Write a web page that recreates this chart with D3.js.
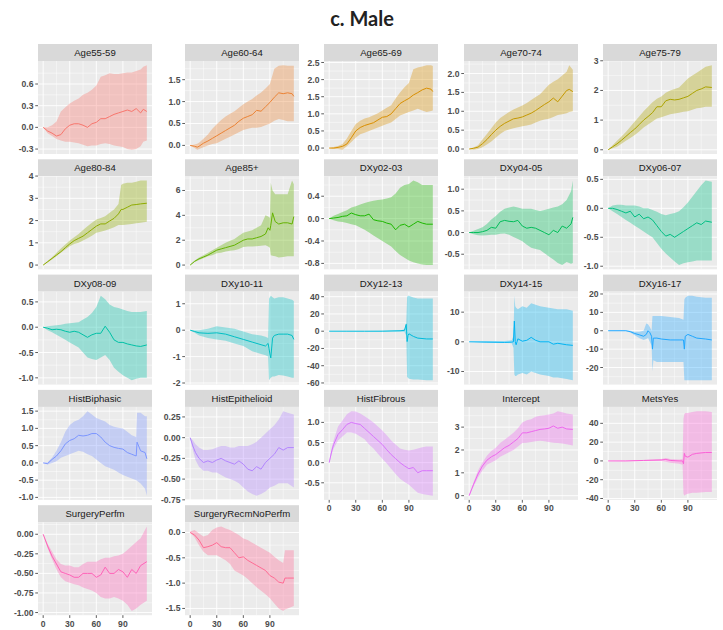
<!DOCTYPE html>
<html>
<head>
<meta charset="utf-8">
<script src="https://cdn.jsdelivr.net/npm/d3@7"></script>
<style>
body { margin: 0; background: #fff; }
</style>
</head>
<body>
<div id="chart"></div>
<script>
// each row: [time, estimate, lower, upper]
const age5559 = [[0,0,0,0],[5,-0.05,-0.08,0.0],[10,-0.08,-0.12,0.03],[15,-0.12,-0.16,0.08],[20,-0.1,-0.18,0.22],[25,-0.02,-0.2,0.28],[30,0.03,-0.2,0.33],[35,0.05,-0.21,0.37],[40,0.05,-0.22,0.4],[45,0.03,-0.24,0.45],[50,0.0,-0.26,0.48],[55,0.05,-0.25,0.52],[60,0.07,-0.25,0.58],[65,0.12,-0.23,0.7],[70,0.12,-0.22,0.72],[75,0.15,-0.23,0.75],[80,0.18,-0.25,0.74],[85,0.2,-0.26,0.74],[90,0.22,-0.27,0.75],[95,0.24,-0.3,0.76],[100,0.22,-0.31,0.76],[105,0.26,-0.3,0.78],[110,0.2,-0.26,0.8],[113,0.25,-0.2,0.84],[117,0.22,-0.18,0.86]];
const age6064 = [[0,0,0,0],[5,-0.02,-0.06,0.02],[8,-0.04,-0.1,0.04],[10,-0.02,-0.08,0.06],[15,0.05,-0.04,0.15],[20,0.1,0.0,0.25],[25,0.16,0.03,0.38],[30,0.22,0.05,0.48],[35,0.28,0.1,0.58],[40,0.34,0.15,0.66],[45,0.4,0.2,0.72],[50,0.46,0.25,0.78],[55,0.55,0.3,0.86],[60,0.62,0.35,0.94],[65,0.66,0.38,1.0],[70,0.7,0.4,1.06],[75,0.8,0.4,1.14],[80,0.78,0.42,1.21],[85,0.88,0.46,1.3],[90,0.98,0.5,1.4],[95,1.1,0.56,1.75],[100,1.2,0.6,1.82],[105,1.18,0.58,1.83],[110,1.2,0.55,1.82],[115,1.18,0.55,1.82],[117,1.12,0.55,1.82]];
const age6569 = [[0,0,0,0],[5,0.0,-0.03,0.03],[10,0.02,-0.03,0.06],[15,0.05,-0.05,0.12],[20,0.12,0.05,0.28],[25,0.3,0.18,0.5],[30,0.5,0.3,0.7],[35,0.6,0.4,0.8],[40,0.66,0.45,0.86],[45,0.7,0.5,0.9],[50,0.74,0.55,0.96],[55,0.82,0.6,1.02],[60,0.9,0.65,1.1],[65,0.92,0.7,1.18],[70,1.0,0.75,1.25],[75,1.15,0.85,1.45],[80,1.3,0.95,1.62],[85,1.38,1.0,1.78],[90,1.45,1.05,1.9],[95,1.55,1.1,2.3],[100,1.62,1.15,2.35],[105,1.7,1.1,2.38],[110,1.75,1.05,2.42],[115,1.72,1.08,2.42],[117,1.65,1.1,2.4]];
const age7074 = [[0,0,0,0],[5,0.02,-0.02,0.04],[10,0.05,0.0,0.1],[15,0.14,0.05,0.25],[20,0.25,0.12,0.4],[25,0.38,0.2,0.55],[30,0.5,0.3,0.7],[35,0.6,0.4,0.82],[40,0.68,0.48,0.9],[45,0.74,0.52,0.98],[50,0.8,0.55,1.05],[55,0.82,0.58,1.1],[60,0.85,0.6,1.15],[65,0.9,0.62,1.22],[70,0.95,0.65,1.3],[75,1.02,0.7,1.38],[80,1.1,0.75,1.45],[85,1.18,0.78,1.58],[90,1.25,0.8,1.7],[95,1.35,0.85,1.78],[100,1.25,0.9,1.85],[105,1.4,0.92,1.95],[110,1.55,0.95,2.05],[113,1.58,0.98,2.22],[117,1.52,1.0,2.1]];
const age7579 = [[0,0,0,0],[5,0.1,0.05,0.15],[10,0.2,0.1,0.3],[15,0.32,0.2,0.45],[20,0.45,0.3,0.6],[25,0.58,0.4,0.78],[30,0.7,0.5,0.95],[35,0.85,0.62,1.12],[40,1.0,0.75,1.3],[45,1.12,0.85,1.45],[50,1.25,0.95,1.6],[55,1.45,1.05,1.72],[60,1.45,1.1,1.8],[65,1.65,1.15,1.92],[70,1.7,1.2,2.0],[75,1.68,1.22,2.05],[80,1.7,1.25,2.1],[85,1.75,1.28,2.25],[90,1.8,1.3,2.4],[95,1.9,1.35,2.5],[100,2.0,1.4,2.6],[105,2.05,1.42,2.7],[110,2.12,1.45,2.8],[117,2.1,1.45,2.85]];
const age8084 = [[0,0,0,0],[5,0.15,0.12,0.18],[10,0.3,0.25,0.35],[15,0.45,0.4,0.55],[20,0.6,0.55,0.75],[25,0.78,0.7,0.92],[30,0.95,0.85,1.1],[35,1.1,0.95,1.25],[40,1.2,1.0,1.4],[45,1.3,1.1,1.58],[50,1.45,1.2,1.75],[55,1.6,1.32,1.9],[60,1.75,1.45,2.05],[65,1.85,1.5,2.12],[70,1.85,1.55,2.2],[75,1.98,1.62,2.35],[80,2.1,1.7,2.5],[85,2.3,1.8,2.75],[88,2.5,1.8,3.6],[90,2.5,1.8,3.65],[95,2.6,1.82,3.7],[100,2.7,1.85,3.7],[105,2.72,1.88,3.75],[110,2.75,1.9,3.8],[117,2.78,1.95,3.8]];
const age85 = [[0,0,0,0],[5,0.3,0.25,0.35],[10,0.5,0.4,0.6],[15,0.65,0.55,0.8],[20,0.8,0.7,1.0],[25,1.0,0.8,1.2],[30,1.2,0.95,1.4],[35,1.3,1.0,1.6],[40,1.4,1.1,1.8],[45,1.5,1.15,1.95],[50,1.6,1.2,2.1],[55,1.8,1.3,2.35],[60,2.0,1.45,2.6],[65,2.1,1.5,2.7],[70,2.1,1.5,2.8],[75,2.2,1.52,3.0],[80,2.3,1.55,3.2],[85,2.5,1.6,4.0],[88,3.0,1.5,3.9],[90,2.8,1.4,3.8],[91,3.2,0.8,6.6],[93,4.2,0.75,6.0],[96,3.5,0.7,5.7],[100,3.3,0.6,5.7],[105,3.4,0.65,5.7],[110,3.4,0.7,5.7],[115,3.3,0.7,6.8],[117,3.9,0.7,6.5]];
const dxy0203 = [[0,0,0,0],[5,0.01,-0.03,0.05],[10,0.02,-0.05,0.08],[15,0.04,-0.06,0.12],[20,0.05,-0.08,0.15],[25,0.1,-0.1,0.2],[30,0.07,-0.12,0.22],[35,0.05,-0.16,0.25],[40,0.05,-0.2,0.28],[45,0.08,-0.25,0.3],[50,-0.02,-0.3,0.32],[55,-0.04,-0.35,0.33],[60,-0.05,-0.4,0.34],[65,-0.08,-0.45,0.36],[70,-0.1,-0.5,0.38],[75,-0.2,-0.58,0.45],[80,-0.12,-0.65,0.55],[85,-0.1,-0.7,0.6],[90,-0.15,-0.75,0.62],[95,-0.1,-0.78,0.68],[100,-0.05,-0.8,0.65],[105,-0.08,-0.82,0.6],[110,-0.1,-0.83,0.6],[117,-0.1,-0.83,0.6]];
const dxy0405 = [[0,0,0,0],[5,0.0,-0.04,0.04],[10,0.0,-0.06,0.08],[15,0.02,-0.07,0.12],[20,0.05,-0.06,0.2],[25,0.12,-0.05,0.3],[30,0.1,-0.05,0.38],[35,0.25,-0.03,0.48],[40,0.28,-0.02,0.55],[45,0.26,-0.05,0.58],[50,0.25,-0.1,0.6],[55,0.28,-0.15,0.58],[60,0.15,-0.2,0.55],[65,0.1,-0.28,0.55],[70,0.12,-0.35,0.55],[75,0.1,-0.38,0.52],[80,0.05,-0.4,0.5],[85,0.0,-0.48,0.52],[90,-0.05,-0.55,0.55],[95,0.05,-0.62,0.58],[100,0.0,-0.7,0.6],[105,0.15,-0.75,0.65],[110,0.1,-0.68,0.75],[115,0.2,-0.72,0.95],[117,0.35,-0.7,1.2]];
const dxy0607 = [[0,0,0,0],[5,0.0,-0.05,0.05],[10,-0.02,-0.1,0.06],[15,-0.05,-0.15,0.06],[20,-0.08,-0.2,0.05],[25,-0.05,-0.25,0.05],[30,-0.15,-0.3,0.05],[35,-0.1,-0.35,0.03],[40,-0.18,-0.4,0.0],[45,-0.15,-0.45,0.0],[50,-0.2,-0.5,-0.03],[55,-0.3,-0.6,-0.06],[60,-0.4,-0.7,-0.1],[65,-0.48,-0.78,-0.12],[70,-0.45,-0.85,-0.1],[75,-0.5,-0.92,-0.08],[80,-0.45,-0.98,-0.05],[85,-0.4,-0.95,0.02],[90,-0.35,-0.93,0.1],[95,-0.3,-0.92,0.2],[100,-0.25,-0.9,0.3],[105,-0.28,-0.9,0.4],[110,-0.22,-0.9,0.48],[117,-0.24,-0.9,0.46]];
const dxy0809 = [[0,0,0,0],[5,-0.02,-0.06,0.02],[10,-0.05,-0.1,0.03],[15,-0.04,-0.15,0.04],[20,-0.05,-0.2,0.05],[25,-0.08,-0.25,0.07],[30,-0.1,-0.3,0.08],[35,-0.08,-0.35,0.09],[40,-0.1,-0.4,0.1],[45,-0.15,-0.5,0.15],[50,-0.2,-0.6,0.2],[55,-0.15,-0.63,0.28],[60,-0.12,-0.65,0.4],[65,-0.12,-0.6,0.62],[70,0.02,-0.55,0.55],[75,-0.1,-0.65,0.45],[80,-0.25,-0.8,0.4],[85,-0.3,-0.88,0.38],[90,-0.3,-0.95,0.35],[95,-0.33,-1.0,0.32],[100,-0.35,-1.05,0.3],[105,-0.37,-1.02,0.3],[110,-0.38,-1.0,0.3],[117,-0.35,-1.0,0.32]];
const dxy1011 = [[0,0,0,0],[5,-0.05,-0.1,0.0],[10,-0.1,-0.2,0.0],[20,-0.12,-0.3,0.05],[30,-0.1,-0.35,0.15],[40,-0.15,-0.4,0.1],[50,-0.25,-0.5,0.05],[60,-0.35,-0.6,-0.05],[70,-0.45,-0.8,-0.15],[80,-0.55,-0.9,-0.2],[85,-0.6,-0.95,-0.25],[88,-0.5,-1.0,-0.3],[89,-0.7,-1.9,1.2],[90,-0.9,-1.85,1.25],[91,-1.05,-1.8,1.3],[93,-0.3,-1.75,1.25],[95,-0.2,-1.75,1.2],[100,-0.15,-1.7,1.25],[105,-0.15,-1.72,1.25],[110,-0.15,-1.75,1.2],[115,-0.2,-1.8,1.15],[117,-0.35,-1.8,1.1]];
const dxy1213 = [[0,0,0,0],[20,0,-0.2,0.2],[40,0,-0.3,0.3],[60,0,-0.4,0.4],[80,0.5,-0.5,1],[85,1,-1,2],[87,8,-5,10],[88,-12,-53,40],[89,-5,-54,41],[90,-3,-55,41],[95,-6,-56,39],[100,-8,-56,38],[110,-9,-57,38],[117,-9,-57,38]];
const dxy1415 = [[0,0,0,0],[20,-0.1,-0.3,0.3],[40,-0.2,-0.3,0.3],[48,-0.1,-0.5,0.5],[50,0,-2,2],[51,7,-11,15.5],[52,0,-11.5,12],[53,-1,-11.5,11.5],[55,1,-11,11],[60,0.2,-10.5,12],[65,0.5,-11,11.5],[70,1.5,-10,13],[75,0.5,-10.5,12.5],[80,0,-11,12],[90,0,-11.5,11.5],[95,-0.8,-12,11.2],[100,-0.5,-12,11],[110,-1,-12.5,11],[117,-1.2,-13,10.5]];
const dxy1617 = [[0,0,0,0],[20,0,-0.2,0.2],[25,-0.5,-1,0],[30,-1.5,-2.5,-0.5],[35,-2.2,-4,-0.5],[40,-3,-5,0],[43,-2,-4.5,4],[45,0,-4,3.5],[47,-1,-6,2],[49,-3,-8,0],[50,-10,-22,8],[51,-4,-16,8],[55,-4,-17,8],[60,-4.5,-17,8],[70,-5,-17,7.5],[80,-5,-17,7],[85,-5,-17,6],[86,-10,-27,17],[87,-3,-27,18],[90,-2,-27,19],[95,-3,-27,19],[100,-4,-27,18.5],[110,-4.5,-27,18],[117,-5,-27,18]];
const histBiphasic = [[0,0,0,0],[5,-0.02,-0.05,0.02],[10,0.1,0.0,0.15],[15,0.2,0.05,0.35],[20,0.35,0.15,0.6],[25,0.55,0.2,0.9],[30,0.65,0.25,1.1],[35,0.7,0.3,1.2],[40,0.8,0.35,1.25],[45,0.78,0.32,1.35],[50,0.8,0.25,1.5],[55,0.85,0.2,1.4],[60,0.85,0.1,1.3],[65,0.75,0.0,1.25],[70,0.6,-0.1,1.2],[75,0.5,-0.15,1.1],[80,0.45,-0.2,1.05],[85,0.42,-0.28,1.02],[90,0.4,-0.35,1.0],[95,0.3,-0.4,0.9],[100,0.25,-0.45,0.8],[105,0.2,-0.5,0.75],[106,0.6,-0.52,1.45],[110,0.35,-0.6,1.45],[115,0.3,-0.75,1.35],[117,0.12,-0.95,1.35]];
const histEpithelioid = [[0,0,0,0],[3,-0.1,-0.15,-0.03],[6,-0.18,-0.27,-0.08],[10,-0.25,-0.35,-0.12],[15,-0.3,-0.4,-0.15],[20,-0.28,-0.4,-0.15],[25,-0.3,-0.42,-0.14],[30,-0.27,-0.42,-0.12],[35,-0.25,-0.45,-0.1],[40,-0.28,-0.48,-0.1],[45,-0.3,-0.5,-0.12],[50,-0.32,-0.52,-0.12],[55,-0.28,-0.55,-0.1],[60,-0.32,-0.6,-0.1],[65,-0.38,-0.65,-0.1],[70,-0.4,-0.68,-0.08],[75,-0.35,-0.7,-0.05],[80,-0.38,-0.68,0.0],[85,-0.3,-0.65,0.05],[90,-0.25,-0.6,0.1],[95,-0.2,-0.58,0.15],[100,-0.12,-0.55,0.22],[105,-0.15,-0.55,0.32],[110,-0.12,-0.55,0.3],[117,-0.12,-0.6,0.28]];
const histFibrous = [[0,0,0,0],[3,0.3,0.22,0.38],[5,0.45,0.35,0.55],[10,0.7,0.55,0.9],[15,0.82,0.65,1.05],[20,0.95,0.75,1.2],[25,1.0,0.75,1.28],[30,0.97,0.72,1.27],[35,0.95,0.65,1.22],[40,0.85,0.58,1.15],[45,0.75,0.45,1.08],[50,0.65,0.35,1.0],[55,0.55,0.22,0.9],[60,0.45,0.1,0.8],[65,0.32,-0.02,0.68],[70,0.2,-0.15,0.55],[75,0.1,-0.28,0.45],[80,0.0,-0.4,0.35],[85,-0.08,-0.48,0.32],[90,-0.15,-0.55,0.3],[95,-0.12,-0.65,0.32],[100,-0.25,-0.75,0.35],[105,-0.2,-0.78,0.38],[110,-0.2,-0.8,0.4],[117,-0.2,-0.82,0.4]];
const intercept = [[0,0,0,0.05],[3,0.3,0.25,0.38],[5,0.5,0.4,0.6],[10,0.95,0.8,1.1],[15,1.3,1.1,1.45],[20,1.55,1.35,1.75],[25,1.7,1.45,1.95],[30,1.8,1.55,2.1],[35,1.95,1.7,2.3],[40,2.1,1.8,2.45],[45,2.2,1.9,2.6],[50,2.35,2.0,2.75],[55,2.5,2.15,2.95],[60,2.75,2.3,3.2],[65,2.75,2.32,3.3],[70,2.8,2.35,3.35],[75,2.85,2.38,3.45],[80,2.9,2.4,3.5],[85,2.92,2.38,3.52],[90,2.95,2.35,3.55],[95,3.05,2.32,3.6],[100,2.95,2.3,3.7],[105,3.0,2.28,3.65],[110,2.92,2.25,3.6],[117,2.9,2.2,3.55]];
const metsYes = [[0,0,0,0],[20,0,-0.3,0.3],[40,0.5,0,1],[60,1,0,2],[65,1.5,-1,3],[70,0.5,-2,2],[80,0,-3,1.5],[84,0,-4,2],[85,-3,-35,45],[86,8,-37,50],[87,5,-36,51],[90,4,-35,51],[95,7,-34,52],[100,8,-34,53],[110,9,-33,53],[117,9,-33,52]];
const surgeryPerfm = [[0,0,0,0],[5,-0.15,-0.18,-0.12],[10,-0.28,-0.32,-0.22],[15,-0.38,-0.45,-0.32],[20,-0.48,-0.55,-0.38],[25,-0.5,-0.6,-0.4],[30,-0.52,-0.62,-0.4],[35,-0.55,-0.64,-0.42],[40,-0.55,-0.65,-0.42],[45,-0.5,-0.68,-0.38],[50,-0.5,-0.7,-0.35],[55,-0.5,-0.72,-0.35],[60,-0.55,-0.75,-0.35],[65,-0.52,-0.8,-0.32],[70,-0.42,-0.82,-0.3],[75,-0.5,-0.82,-0.3],[80,-0.5,-0.8,-0.28],[85,-0.45,-0.82,-0.27],[90,-0.48,-0.85,-0.25],[95,-0.55,-0.9,-0.2],[100,-0.45,-0.98,-0.15],[105,-0.5,-0.95,-0.1],[110,-0.4,-0.9,-0.05],[117,-0.35,-0.85,0.1]];
const surgeryRecm = [[0,0,0,0.02],[5,-0.05,-0.1,0.05],[10,-0.15,-0.25,-0.02],[15,-0.3,-0.38,-0.08],[20,-0.28,-0.45,-0.05],[25,-0.25,-0.45,0.05],[30,-0.2,-0.45,0.1],[35,-0.28,-0.5,0.12],[40,-0.3,-0.55,0.08],[45,-0.3,-0.62,0.05],[50,-0.4,-0.75,0.0],[55,-0.5,-0.8,-0.05],[60,-0.48,-0.85,-0.12],[65,-0.55,-0.92,-0.15],[70,-0.6,-1.0,-0.2],[75,-0.65,-1.08,-0.25],[80,-0.7,-1.15,-0.3],[85,-0.75,-1.22,-0.35],[90,-0.85,-1.3,-0.4],[95,-0.9,-1.4,-0.48],[100,-0.98,-1.5,-0.55],[105,-1.0,-1.55,-0.6],[107,-0.9,-1.52,-0.35],[110,-0.9,-1.5,-0.35],[117,-0.9,-1.45,-0.35]];

const panelNames = ["Age55-59","Age60-64","Age65-69","Age70-74","Age75-79",
    "Age80-84","Age85+","DXy02-03","DXy04-05","DXy06-07",
    "DXy08-09","DXy10-11","DXy12-13","DXy14-15","DXy16-17",
    "HistBiphasic","HistEpithelioid","HistFibrous","Intercept","MetsYes",
    "SurgeryPerfm","SurgeryRecmNoPerfm"];
const panelData = [age5559, age6064, age6569, age7074, age7579,
    age8084, age85, dxy0203, dxy0405, dxy0607,
    dxy0809, dxy1011, dxy1213, dxy1415, dxy1617,
    histBiphasic, histEpithelioid, histFibrous, intercept, metsYes,
    surgeryPerfm, surgeryRecm];
const panelTicks = [
    [-0.3, 0, 0.3, 0.6], [0, 0.5, 1, 1.5], [0, 0.5, 1, 1.5, 2, 2.5], [0, 0.5, 1, 1.5, 2], [0, 1, 2, 3],
    [0, 1, 2, 3, 4], [0, 2, 4, 6], [-0.8, -0.4, 0, 0.4], [-0.5, 0, 0.5, 1], [-1, -0.5, 0, 0.5],
    [-1, -0.5, 0, 0.5], [-2, -1, 0, 1], [-60, -40, -20, 0, 20, 40], [-10, 0, 10], [-20, -10, 0, 10, 20],
    [-1, -0.5, 0, 0.5, 1, 1.5], [-0.75, -0.5, -0.25, 0, 0.25], [-0.5, 0, 0.5, 1], [0, 1, 2, 3], [-40, -20, 0, 20, 40],
    [-1, -0.75, -0.5, -0.25, 0], [-1.5, -1, -0.5, 0]];
const panelDigits = [1,1,1,1,0, 0,0,1,1,1, 1,0,0,0,0, 1,2,1,0,0, 2,1];
const xTicks = [0, 30, 60, 90];

// ggplot default hue palette, 22 levels
const colors = ["#F8766D","#EB8335","#DA8F00","#C59900","#ACA300","#8EAB00","#64B200","#1DB800",
    "#00BC59","#00BF83","#00C1A6","#00BFC4","#00BBDC","#00B3F2","#20A7FF","#7C96FF",
    "#B385FF","#D874FD","#EE67EF","#FB61D7","#FF63B8","#FF6B94"];

const width = 723, height = 630;
const colLeft = [38, 185, 324, 464, 603];
const panelW = 114, stripH = 17, plotH = 93, rowStep = 115.3, top0 = 44;

const svg = d3.select("#chart")
    .append("svg")
    .attr("width", width)
    .attr("height", height)
    .style("font-family", "'Liberation Sans', Arial, sans-serif");

svg.append("text")
    .attr("x", 362)
    .attr("y", 26)
    .attr("text-anchor", "middle")
    .style("font-family", "Lato, sans-serif")
    .style("font-weight", "bold")
    .style("font-size", "20px")
    .style("fill", "#222")
    .text("c. Male");

const defs = svg.append("defs");

const xMax = d3.max(panelData, d => d3.max(d, r => r[0]));
const x = d3.scaleLinear()
    .domain([-0.05 * xMax, 1.05 * xMax])
    .range([0, panelW]);
const xMinor = [15, 45, 75, 105];

function minorOf(ticks, domain) {
    const step = ticks[1] - ticks[0];
    const out = [];
    for (let v = ticks[0] - step / 2; v <= ticks[ticks.length - 1] + step; v += step) {
        if (v >= domain[0] && v <= domain[1]) out.push(v);
    }
    return out;
}

panelNames.forEach((name, i) => {
    const col = i % 5, row = Math.floor(i / 5);
    const data = panelData[i];
    const color = colors[i];

    const lo = d3.min(data, d => d[2]);
    const hi = d3.max(data, d => d[3]);
    const pad = (hi - lo) * 0.05;
    const y = d3.scaleLinear().domain([lo - pad, hi + pad]).range([plotH, 0]);
    const ticks = panelTicks[i];
    const fmt = d3.format("." + panelDigits[i] + "f");

    const g = svg.append("g")
        .attr("transform", `translate(${colLeft[col]},${top0 + row * rowStep})`);

    // strip
    defs.append("clipPath").attr("id", "strip" + i)
        .append("rect").attr("width", panelW).attr("height", stripH);
    g.append("rect")
        .attr("width", panelW)
        .attr("height", stripH)
        .attr("fill", "#D9D9D9");
    g.append("text")
        .attr("clip-path", `url(#strip${i})`)
        .attr("x", panelW / 2)
        .attr("y", stripH / 2 + 3.5)
        .attr("text-anchor", "middle")
        .style("font-size", "9.6px")
        .style("fill", "#1A1A1A")
        .text(name);

    // panel
    const p = g.append("g").attr("transform", `translate(0,${stripH})`);
    defs.append("clipPath").attr("id", "panel" + i)
        .append("rect").attr("width", panelW).attr("height", plotH);

    p.append("rect")
        .attr("width", panelW)
        .attr("height", plotH)
        .attr("fill", "#EBEBEB");

    const grid = p.append("g").attr("clip-path", `url(#panel${i})`);
    grid.selectAll(".hmin").data(minorOf(ticks, y.domain())).enter().append("line")
        .attr("x1", 0).attr("x2", panelW)
        .attr("y1", d => y(d)).attr("y2", d => y(d))
        .style("stroke", "#fff").style("stroke-width", 0.45);
    grid.selectAll(".vmin").data(xMinor).enter().append("line")
        .attr("y1", 0).attr("y2", plotH)
        .attr("x1", d => x(d)).attr("x2", d => x(d))
        .style("stroke", "#fff").style("stroke-width", 0.45);
    grid.selectAll(".hmaj").data(ticks).enter().append("line")
        .attr("x1", 0).attr("x2", panelW)
        .attr("y1", d => y(d)).attr("y2", d => y(d))
        .style("stroke", "#fff").style("stroke-width", 0.9);
    grid.selectAll(".vmaj").data(xTicks).enter().append("line")
        .attr("y1", 0).attr("y2", plotH)
        .attr("x1", d => x(d)).attr("x2", d => x(d))
        .style("stroke", "#fff").style("stroke-width", 0.9);

    const area = d3.area()
        .x(d => x(d[0]))
        .y0(d => y(d[2]))
        .y1(d => y(d[3]));
    const line = d3.line()
        .x(d => x(d[0]))
        .y(d => y(d[1]));

    grid.append("path")
        .datum(data)
        .attr("d", area)
        .attr("fill", color)
        .attr("fill-opacity", 0.35);
    grid.append("path")
        .datum(data)
        .attr("d", line)
        .attr("fill", "none")
        .attr("stroke", color)
        .attr("stroke-width", 1);

    // y axis
    const yAxis = p.append("g");
    yAxis.selectAll("line").data(ticks).enter().append("line")
        .attr("x1", -2.75).attr("x2", 0)
        .attr("y1", d => y(d)).attr("y2", d => y(d))
        .style("stroke", "#333").style("stroke-width", 0.8);
    yAxis.selectAll("text").data(ticks).enter().append("text")
        .attr("x", -4.5)
        .attr("y", d => y(d) + 3)
        .attr("text-anchor", "end")
        .style("font-size", "8.6px")
        .style("font-weight", "bold")
        .style("fill", "#4D4D4D")
        .text(d => fmt(d).replace("\u2212", "-"));

    // x axis only under the last panel of each column
    if (i + 5 >= panelNames.length) {
        const xAxis = p.append("g").attr("transform", `translate(0,${plotH})`);
        xAxis.selectAll("line").data(xTicks).enter().append("line")
            .attr("x1", d => x(d)).attr("x2", d => x(d))
            .attr("y1", 0).attr("y2", 2.75)
            .style("stroke", "#333").style("stroke-width", 0.8);
        xAxis.selectAll("text").data(xTicks).enter().append("text")
            .attr("x", d => x(d))
            .attr("y", 11.5)
            .attr("text-anchor", "middle")
            .style("font-size", "8.6px")
            .style("font-weight", "bold")
            .style("fill", "#4D4D4D")
            .text(d => d);
    }
});
</script>
</body>
</html>
